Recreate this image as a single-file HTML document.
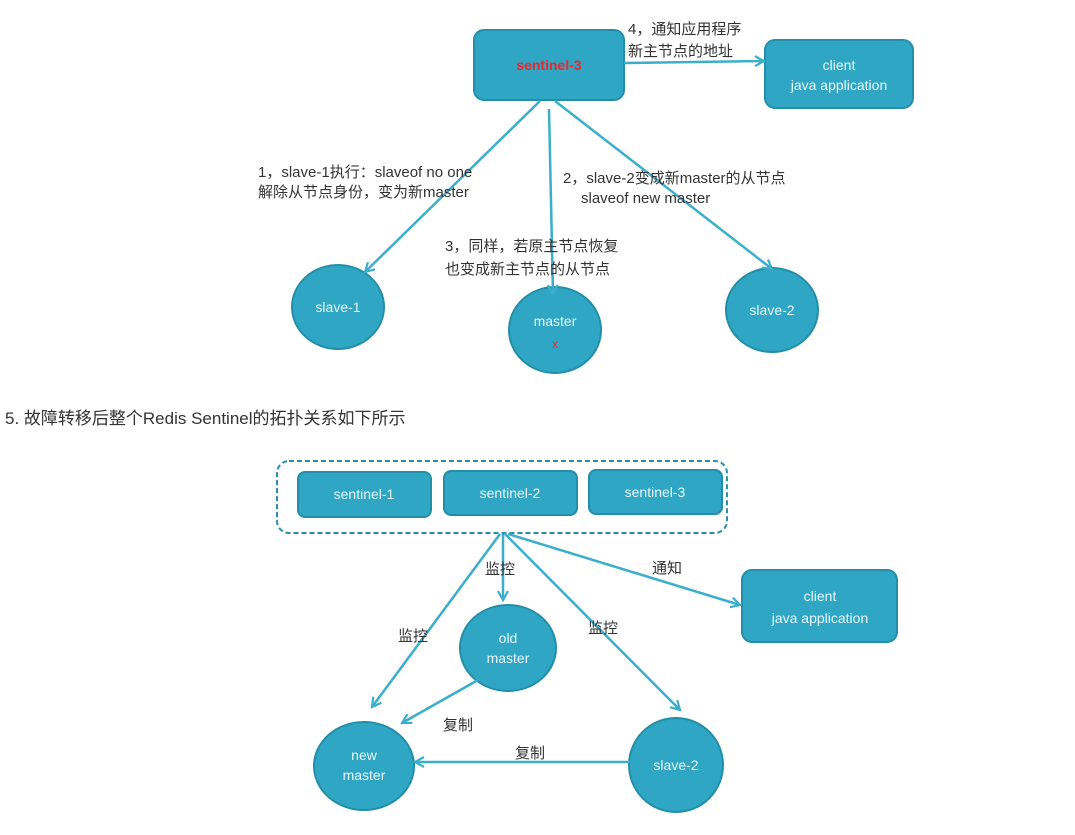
<!DOCTYPE html>
<html><head><meta charset="utf-8"><style>
body{margin:0;background:#fff;width:1075px;height:830px;overflow:hidden;font-family:"Liberation Sans","Noto Sans CJK SC",sans-serif}
svg text{font-family:"Liberation Sans","Noto Sans CJK SC",sans-serif}
</style></head><body>
<svg width="1075" height="830" xmlns="http://www.w3.org/2000/svg">
<defs>
<marker id="a" markerWidth="12" markerHeight="12" refX="10" refY="6" orient="auto" markerUnits="userSpaceOnUse">
<path d="M1,1 L10,6 L1,11" fill="none" stroke="#3aaecb" stroke-width="2.2"/></marker>
</defs>
<g fill="#2fa7c4" stroke="#238ea9" stroke-width="2">
<rect x="474" y="30" width="150" height="70" rx="10"/>
<rect x="765" y="40" width="148" height="68" rx="10"/>
<ellipse cx="338" cy="307" rx="46" ry="42"/>
<ellipse cx="555" cy="330" rx="46" ry="43"/>
<ellipse cx="772" cy="310" rx="46" ry="42"/>
</g>
<g stroke="#3aaecb" stroke-width="2.5" fill="none" marker-end="url(#a)">
<line x1="624" y1="63" x2="764" y2="61"/>
<line x1="540" y1="101" x2="365" y2="272"/>
<line x1="549" y1="109" x2="553" y2="294"/>
<line x1="555" y1="101" x2="772" y2="269"/>
</g>
<text x="549" y="70" fill="#e8262d" font-size="14" font-weight="bold" text-anchor="middle">sentinel-3</text>
<text x="839" y="70" fill="#e6f6fa" font-size="14" text-anchor="middle">client</text>
<text x="839" y="90" fill="#e6f6fa" font-size="14" text-anchor="middle">java application</text>
<g fill="#e6f6fa" font-size="14" text-anchor="middle">
<text x="338" y="312">slave-1</text>
<text x="555" y="326">master</text>
<text x="772" y="315">slave-2</text>
</g>
<text x="555" y="348" fill="#e8262d" font-size="12" text-anchor="middle">x</text>
<g fill="#333" font-size="15">
<text x="628" y="34">4，通知应用程序</text>
<text x="628" y="56">新主节点的地址</text>
<text x="258" y="177">1，slave-1执行：slaveof no one</text>
<text x="258" y="197">解除从节点身份，变为新master</text>
<text x="563" y="183">2，slave-2变成新master的从节点</text>
<text x="581" y="203">slaveof new master</text>
<text x="445" y="251">3，同样，若原主节点恢复</text>
<text x="445" y="274">也变成新主节点的从节点</text>
</g>
<text x="5" y="424" fill="#333" font-size="17">5. 故障转移后整个Redis Sentinel的拓扑关系如下所示</text>
<rect x="277" y="461" width="450" height="72" rx="12" fill="none" stroke="#2a8fa8" stroke-width="2" stroke-dasharray="5,3"/>
<g fill="#2fa7c4" stroke="#238ea9" stroke-width="2">
<rect x="298" y="472" width="133" height="45" rx="7"/>
<rect x="444" y="471" width="133" height="44" rx="7"/>
<rect x="589" y="470" width="133" height="44" rx="7"/>
<rect x="742" y="570" width="155" height="72" rx="10"/>
<ellipse cx="508" cy="648" rx="48" ry="43"/>
<ellipse cx="364" cy="766" rx="50" ry="44"/>
<ellipse cx="676" cy="765" rx="47" ry="47"/>
</g>
<g stroke="#3aaecb" stroke-width="2.5" fill="none" marker-end="url(#a)">
<line x1="500" y1="534" x2="372" y2="707"/>
<line x1="503" y1="534" x2="503" y2="600"/>
<line x1="505" y1="534" x2="680" y2="710"/>
<line x1="508" y1="534" x2="740" y2="605"/>
<line x1="478" y1="680" x2="402" y2="723"/>
<line x1="630" y1="762" x2="415" y2="762"/>
</g>
<g fill="#e6f6fa" font-size="14" text-anchor="middle">
<text x="364" y="499">sentinel-1</text>
<text x="510" y="498">sentinel-2</text>
<text x="655" y="497">sentinel-3</text>
<text x="820" y="601">client</text>
<text x="820" y="623">java application</text>
<text x="508" y="643">old</text>
<text x="508" y="663">master</text>
<text x="364" y="760">new</text>
<text x="364" y="780">master</text>
<text x="676" y="770">slave-2</text>
</g>
<g fill="#333" font-size="15">
<text x="485" y="574">监控</text>
<text x="398" y="641">监控</text>
<text x="588" y="633">监控</text>
<text x="652" y="573">通知</text>
<text x="443" y="730">复制</text>
<text x="515" y="758">复制</text>
</g>
</svg>
</body></html>
